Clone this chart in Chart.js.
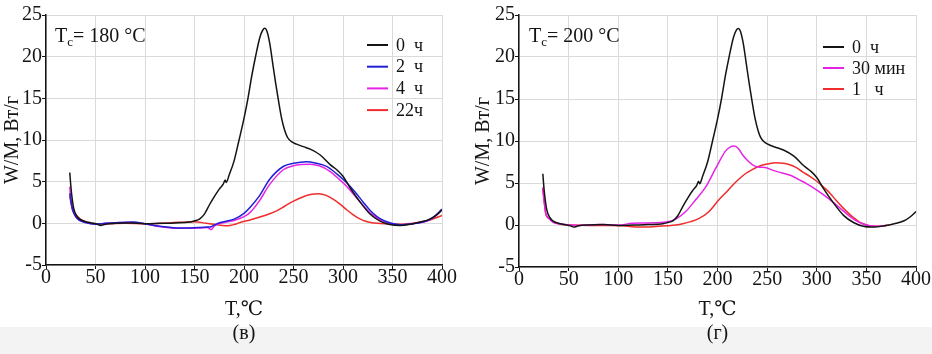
<!DOCTYPE html>
<html>
<head>
<meta charset="utf-8">
<script src="https://cdn.jsdelivr.net/npm/chart.js@4"></script>
<style>
body { margin: 0; background: #fff; }
#wrap { position: relative; width: 932px; height: 354px; overflow: hidden; }
#band { position: absolute; left: 0; top: 327px; width: 932px; height: 27px; background: #f3f3f3; }
canvas { position: absolute; top: 0; }
</style>
</head>
<body>
<div id="wrap">
  <div id="band"></div>
  <canvas id="chartV" width="466" height="354" style="left:0"></canvas>
  <canvas id="chartG" width="466" height="354" style="left:466px"></canvas>
</div>
<script>
// 0 h (same curve in both panels)
const t0 = [24, 25, 26, 28, 31, 34, 40, 46, 52, 55, 60, 70, 85, 100, 115, 130, 145, 150, 155, 160, 165, 170, 175, 179, 181, 182, 185, 190, 195, 200, 204, 208, 212, 216, 219, 221, 223, 226, 229, 232, 235, 238, 241, 244, 248, 253, 260, 267, 277, 287, 294, 300, 307, 317, 327, 337, 347, 358, 368, 378, 388, 394, 400];
const w0 = [6.1, 4.6, 3.4, 1.8, 0.9, 0.5, 0.2, 0.05, -0.1, -0.25, -0.1, 0.0, 0.05, -0.05, 0.0, 0.05, 0.15, 0.3, 0.5, 1.1, 2.2, 3.2, 4.1, 4.7, 5.2, 4.9, 5.8, 7.5, 10.0, 12.6, 15.0, 17.8, 20.2, 22.3, 23.2, 23.4, 23.1, 21.6, 19.2, 16.8, 14.6, 12.6, 11.2, 10.3, 9.8, 9.5, 9.2, 8.9, 8.2, 7.05, 6.4, 5.65, 4.3, 2.6, 1.15, 0.3, -0.15, -0.25, -0.1, 0.15, 0.5, 0.95, 1.6];

// panel (в): Tc = 180 °C
const t2 = [24, 25, 27, 30, 34, 40, 50, 60, 75, 88, 100, 112, 122, 132, 145, 156, 163, 167, 171, 176, 182, 190, 200, 206, 215, 226, 240, 250, 263, 272, 284, 294, 304, 312, 320, 327, 334, 341, 348, 358, 370, 384, 392, 400];
const w2 = [3.6, 2.8, 1.6, 0.8, 0.35, 0.1, -0.1, 0.0, 0.1, 0.15, -0.05, -0.3, -0.45, -0.55, -0.55, -0.5, -0.45, -0.4, -0.15, 0.1, 0.25, 0.5, 1.2, 1.9, 3.2, 5.3, 6.85, 7.2, 7.4, 7.25, 6.8, 5.9, 4.85, 3.8, 2.6, 1.6, 0.85, 0.35, 0.05, -0.16, -0.05, 0.28, 0.8, 1.7];
const t4 = [24, 25, 27, 30, 34, 40, 50, 60, 75, 88, 100, 112, 122, 132, 145, 156, 163, 167, 170, 176, 182, 190, 200, 206, 215, 226, 240, 250, 258, 267, 276, 286, 296, 304, 312, 320, 327, 334, 341, 348, 358, 370, 384, 392, 400];
const w4 = [4.4, 3.0, 1.7, 0.8, 0.35, 0.1, -0.1, 0.0, 0.1, 0.1, -0.05, -0.35, -0.5, -0.6, -0.6, -0.55, -0.5, -0.75, -0.3, 0.0, 0.15, 0.35, 0.8, 1.28, 2.6, 4.67, 6.46, 6.9, 7.05, 7.1, 6.9, 6.3, 5.3, 4.4, 3.3, 2.2, 1.3, 0.7, 0.25, 0.0, -0.18, -0.05, 0.25, 0.75, 1.6];
const t22 = [24, 25, 27, 31, 36, 41, 50, 60, 80, 100, 125, 150, 162, 172, 178, 183, 190, 196, 206, 216, 226, 233, 241, 250, 258, 267, 276, 283, 290, 297, 304, 310, 316, 322, 328, 335, 345, 358, 374, 388, 400];
const w22 = [3.3, 2.6, 1.5, 0.9, 0.4, 0.15, -0.05, -0.05, 0.0, -0.05, 0.05, 0.2, 0.0, -0.15, -0.25, -0.3, -0.15, 0.1, 0.4, 0.75, 1.15, 1.5, 2.05, 2.67, 3.1, 3.45, 3.55, 3.35, 2.9, 2.3, 1.6, 1.05, 0.6, 0.28, 0.1, 0.0, -0.05, -0.1, 0.08, 0.4, 0.95];

// panel (г): Tc = 200 °C
const t30 = [24, 25, 27, 30, 34, 40, 47, 60, 80, 100, 114, 130, 148, 158, 168, 178, 188, 198, 208, 213, 217, 221, 225, 230, 235, 241, 248, 256, 265, 274, 282, 290, 299, 308, 316, 324, 332, 339, 346, 352, 358, 365, 370];
const w30 = [4.5, 3.2, 1.4, 0.8, 0.35, 0.15, 0.05, -0.05, 0.05, 0.0, 0.2, 0.25, 0.35, 0.7, 1.6, 3.0, 4.5, 6.7, 8.8, 9.3, 9.4, 9.1, 8.4, 7.7, 7.2, 6.9, 6.85, 6.5, 6.2, 5.9, 5.4, 4.9, 4.25, 3.5, 2.75, 1.95, 1.15, 0.55, 0.15, -0.05, -0.15, -0.15, -0.05];
const t1 = [24, 25, 27, 30, 35, 42, 54, 70, 90, 105, 121, 135, 148, 158, 165, 173, 181, 191, 201, 208, 215, 222, 228, 235, 242, 250, 259, 266, 272, 279, 286, 293, 299, 304, 309, 314, 319, 326, 333, 338, 343, 348, 353, 358, 363, 368, 373];
const w1 = [4.3, 3.2, 1.3, 0.8, 0.35, 0.1, 0.0, -0.05, -0.05, -0.1, -0.25, -0.2, -0.1, 0.0, 0.15, 0.4, 0.75, 1.55, 2.95, 3.8, 4.7, 5.5, 6.1, 6.6, 7.0, 7.25, 7.4, 7.35, 7.2, 6.85, 6.3, 5.8, 5.3, 4.8, 4.3, 3.7, 3.0, 2.1, 1.3, 0.8, 0.35, 0.1, -0.1, -0.15, -0.15, -0.1, 0.0];

const xTicks = [0, 50, 100, 150, 200, 250, 300, 350, 400];
const yTicks = [-5, 0, 5, 10, 15, 20, 25];

const serif = '"Liberation Serif", "DejaVu Serif", serif';
const ink = '#141414';

const pts = (ts, ws) => ts.map((t, i) => ({x: t, y: ws[i]}));

const line = (label, ts, ws, color) => ({
    label: label,
    data: pts(ts, ws),
    borderColor: color,
    borderWidth: 1.5,
    pointRadius: 0,
    fill: false,
    cubicInterpolationMode: 'monotone',
});

// Tc label and the legend inside the plot
const panelDecor = {
    id: 'panelDecor',
    afterDraw(chart, args, o) {
        const {ctx, chartArea: a} = chart;
        ctx.save();
        ctx.fillStyle = ink;
        ctx.textBaseline = 'alphabetic';
        ctx.textAlign = 'left';
        let x = a.left + o.tcX, y = a.top + 27;
        ctx.font = '20px ' + serif;
        ctx.fillText('T', x, y);
        x += ctx.measureText('T').width;
        ctx.font = '13px ' + serif;
        ctx.fillText('c', x, y + 4);
        x += ctx.measureText('c').width;
        ctx.font = '20px ' + serif;
        ctx.fillText('= ' + o.tc + ' °C', x, y);

        ctx.font = '18px ' + serif;
        ctx.textBaseline = 'middle';
        chart.data.datasets.forEach((ds, i) => {
            const ly = a.top + o.legTop + i * o.legStep;
            const lx = a.right - o.legRight;
            ctx.strokeStyle = ds.borderColor;
            ctx.lineWidth = 2;
            ctx.beginPath();
            ctx.moveTo(lx, ly);
            ctx.lineTo(lx + 21, ly);
            ctx.stroke();
            ctx.fillText(ds.label, lx + 29, ly + 1);
        });
        ctx.restore();
    }
};

const makePanel = (id, datasets, p) => {
    const ctx = document.getElementById(id).getContext('2d');
    return new Chart(ctx, {
        type: 'line',
        data: {datasets: datasets},
        plugins: [panelDecor],
        options: {
            responsive: false,
            animation: false,
            layout: {padding: {left: 0, right: p.padRight, top: 15, bottom: 0}},
            plugins: {
                legend: {display: false},
                tooltip: {enabled: false},
                panelDecor: p.decor,
            },
            scales: {
                x: {
                    type: 'linear',
                    min: 0,
                    max: 400,
                    afterBuildTicks: (s) => { s.ticks = xTicks.map(v => ({value: v})); },
                    afterFit: (s) => { s.height = p.xHeight; s.paddingLeft = 0; s.paddingRight = 0; },
                    grid: {color: '#dadada', lineWidth: 1, tickColor: ink, tickLength: 4},
                    border: {color: ink, width: 1.5},
                    ticks: {color: ink, font: {family: serif, size: 20}, padding: -3, maxRotation: 0, autoSkip: false},
                    title: {
                        display: true,
                        text: ['T,℃', p.caption],
                        color: ink,
                        font: {family: serif, size: 20, lineHeight: 1.2},
                        padding: {top: 0, bottom: 8},
                    },
                },
                y: {
                    min: -5,
                    max: 25,
                    afterBuildTicks: (s) => { s.ticks = yTicks.map(v => ({value: v})); },
                    afterFit: (s) => { s.width = p.yWidth; s.paddingTop = 0; s.paddingBottom = 0; },
                    grid: {color: '#dadada', lineWidth: 1, tickColor: ink, tickLength: 4},
                    border: {color: ink, width: 1.5},
                    ticks: {color: ink, font: {family: serif, size: 20}, padding: 0},
                    title: {
                        display: true,
                        text: 'W/M, Вт/г',
                        color: ink,
                        font: {family: serif, size: 20, lineHeight: 1.2},
                        padding: {top: p.yTitlePad, bottom: 0},
                    },
                },
            },
        },
    });
};

const renderCharts = () => {
    makePanel('chartV', [
        line('0  ч', t0, w0, ink),
        line('2  ч', t2, w2, '#2020d8'),
        line('4  ч', t4, w4, '#e624e6'),
        line('22ч', t22, w22, '#f02c2c'),
    ], {
        padRight: 24, xHeight: 89, yWidth: 46, yTitlePad: 1, caption: '(в)',
        decor: {tc: '180', tcX: 9, legTop: 30, legStep: 21.7, legRight: 75},
    });

    makePanel('chartG', [
        line('0  ч', t0, w0, ink),
        line('30 мин', t30, w30, '#e624e6'),
        line('1   ч', t1, w1, '#f02c2c'),
    ], {
        padRight: 16, xHeight: 87, yWidth: 53, yTitlePad: 6, caption: '(г)',
        decor: {tc: '200', tcX: 10, legTop: 32, legStep: 21, legRight: 93},
    });
};

window.addEventListener('load', renderCharts);
</script>
</body>
</html>
